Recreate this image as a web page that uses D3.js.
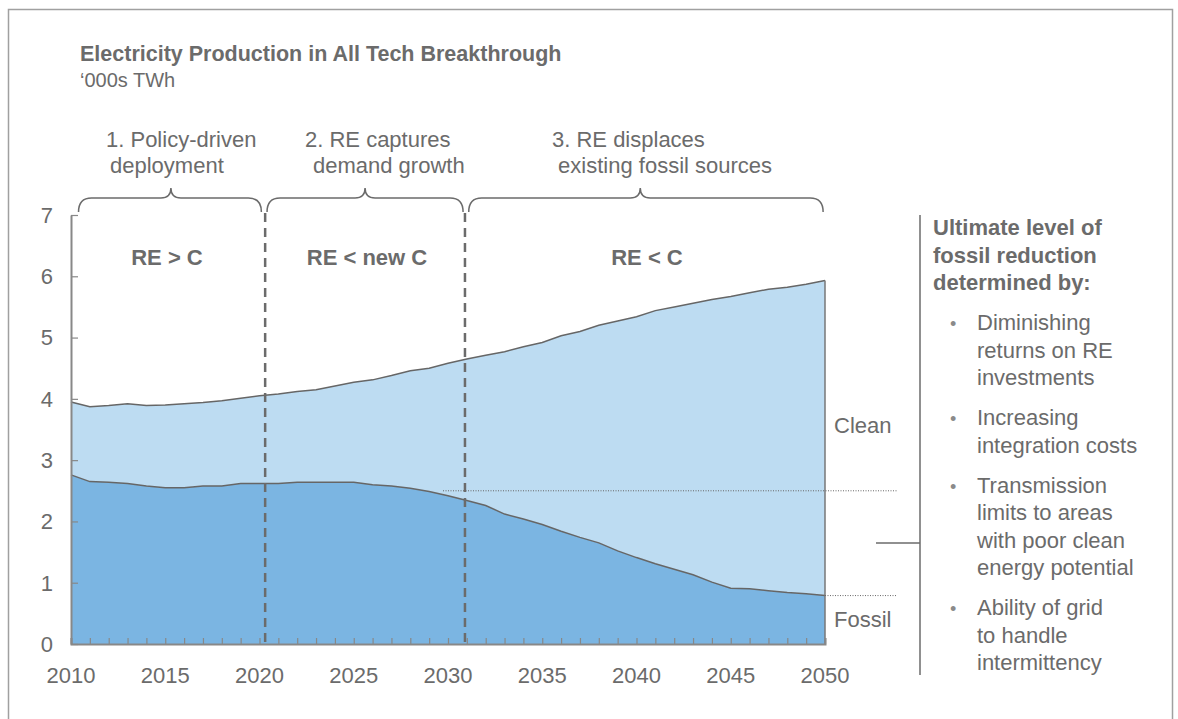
<!DOCTYPE html>
<html>
<head>
<meta charset="utf-8">
<script src="https://cdn.jsdelivr.net/npm/d3@7"></script>
<style>
  body { margin: 0; background: #fff; }
  svg text { font-family: "Liberation Sans", Arial, sans-serif; fill: #6b6b6b; }
</style>
</head>
<body>
<div id="chart"></div>
<script>
// data ('000s TWh)
const years = [2010, 2011, 2012, 2013, 2014, 2015, 2016, 2017, 2018, 2019,
  2020, 2021, 2022, 2023, 2024, 2025, 2026, 2027, 2028, 2029,
  2030, 2031, 2032, 2033, 2034, 2035, 2036, 2037, 2038, 2039,
  2040, 2041, 2042, 2043, 2044, 2045, 2046, 2047, 2048, 2049, 2050];
const fossil = [2.76, 2.65, 2.64, 2.62, 2.58, 2.55, 2.55, 2.58, 2.58, 2.62,
  2.62, 2.62, 2.64, 2.64, 2.64, 2.64, 2.60, 2.58, 2.54, 2.49,
  2.42, 2.34, 2.26, 2.12, 2.04, 1.95, 1.84, 1.74, 1.65, 1.52,
  1.41, 1.31, 1.22, 1.13, 1.01, 0.91, 0.90, 0.87, 0.84, 0.82, 0.79];
const clean = [1.19, 1.22, 1.25, 1.30, 1.31, 1.35, 1.37, 1.36, 1.39, 1.39,
  1.43, 1.46, 1.48, 1.51, 1.57, 1.63, 1.71, 1.80, 1.92, 2.01,
  2.16, 2.31, 2.45, 2.65, 2.81, 2.97, 3.19, 3.36, 3.55, 3.75,
  3.93, 4.13, 4.28, 4.43, 4.61, 4.76, 4.83, 4.92, 4.98, 5.05, 5.14];
const yTicks = [0, 1, 2, 3, 4, 5, 6, 7];
const xTicks = [2010, 2015, 2020, 2025, 2030, 2035, 2040, 2045, 2050];

// phases: label lines, bold tag, brace span (years)
const phaseLines = [["1. Policy-driven", "deployment"], ["2. RE captures", "demand growth"], ["3. RE displaces", " existing fossil sources"]];
const phaseTags = ["RE > C", "RE < new C", "RE < C"];
const phaseSpans = [[2010.4, 2020.1], [2020.4, 2030.8], [2031.1, 2049.9]];
const phaseMids = [2015.3, 2025.6, 2040.2];
const dividers = [2020.3, 2030.9];
const fossilFloor = 2.5;

const panelTitle = ["Ultimate level of", "fossil reduction", "determined by:"];
const bullets = [
  ["Diminishing", "returns on RE", "investments"],
  ["Increasing", "integration costs"],
  ["Transmission", "limits to areas", "with poor clean", "energy potential"],
  ["Ability of grid", "to handle", "intermittency"]
];

const W = 1178, H = 719;
const svg = d3.select("#chart").append("svg").attr("width", W).attr("height", H);

// outer frame
svg.append("rect").attr("x", 8.5).attr("y", 9.5).attr("width", 1164).attr("height", 730)
  .attr("fill", "none").attr("stroke", "#a0a0a0").attr("stroke-width", 1.5);

// title
svg.append("text").attr("x", 80).attr("y", 61).style("font-size", "21.5px").style("font-weight", "bold")
  .text("Electricity Production in All Tech Breakthrough");
svg.append("text").attr("x", 80).attr("y", 87).style("font-size", "20px").text("\u2018000s TWh");

const x = d3.scaleLinear().domain([2010, 2050]).range([71, 825]);
const y = d3.scaleLinear().domain([0, 7]).range([644, 215]);

const rows = years.map((yr, i) => ({ year: yr, fossil: fossil[i], clean: clean[i] }));
const stack = d3.stack().keys(["fossil", "clean"])(rows);
const colors = { fossil: "#7bb5e2", clean: "#bddcf2" };

const area = d3.area().x(d => x(d.data.year)).y0(d => y(d[0])).y1(d => y(d[1]));
const topLine = d3.line().x(d => x(d.data.year)).y(d => y(d[1]));

svg.selectAll(".layer").data(stack).enter().append("path")
  .attr("class", "layer").attr("d", area).attr("fill", d => colors[d.key]);
svg.selectAll(".edge").data(stack).enter().append("path")
  .attr("class", "edge").attr("d", topLine)
  .attr("fill", "none").attr("stroke", "#666").attr("stroke-width", 1.5);

// closing edge at 2050
const last = stack[1][stack[1].length - 1];
svg.append("line").attr("x1", x(2050)).attr("x2", x(2050)).attr("y1", y(0)).attr("y2", y(last[1]))
  .attr("stroke", "#777").attr("stroke-width", 1.5);

// x axis
const xAxis = svg.append("g").attr("transform", `translate(0,${y(0)})`)
  .call(d3.axisBottom(x).tickValues(years).tickSize(-6).tickFormat(""));
xAxis.select(".domain").attr("stroke", "#888").attr("stroke-width", 2);
xAxis.selectAll(".tick line").attr("stroke", "#888").attr("stroke-width", 1.2);
svg.selectAll(".xlab").data(xTicks).enter().append("text")
  .attr("x", d => x(d)).attr("y", 683).attr("text-anchor", "middle")
  .style("font-size", "22px").text(d => d);

// y axis
const yAxis = svg.append("g").attr("transform", `translate(${x(2010)},0)`)
  .call(d3.axisLeft(y).tickValues(yTicks).tickSize(-7).tickSizeOuter(0).tickFormat(""));
yAxis.select(".domain").attr("stroke", "#888").attr("stroke-width", 2);
yAxis.selectAll(".tick line").attr("stroke", "#888").attr("stroke-width", 1.2);
svg.selectAll(".ylab").data(yTicks).enter().append("text")
  .attr("x", 53).attr("y", d => y(d)).attr("dy", "0.36em").attr("text-anchor", "end")
  .style("font-size", "22px").text(d => d);

// dashed phase dividers
svg.selectAll(".div").data(dividers).enter().append("line")
  .attr("x1", d => x(d)).attr("x2", d => x(d)).attr("y1", 213).attr("y2", y(0))
  .attr("stroke", "#6b6b6b").attr("stroke-width", 2.5).attr("stroke-dasharray", "9,6");

// braces
function brace(x1, x2, xm, yEnd, yTop, yTip) {
  const r = 13, t = 10;
  return `M${x1},${yEnd} Q${x1},${yTop} ${x1 + r},${yTop} L${xm - t},${yTop} Q${xm},${yTop} ${xm},${yTip}` +
    ` Q${xm},${yTop} ${xm + t},${yTop} L${x2 - r},${yTop} Q${x2},${yTop} ${x2},${yEnd}`;
}
svg.selectAll(".brace").data(phaseSpans).enter().append("path")
  .attr("d", (d, i) => brace(x(d[0]), x(d[1]), x(phaseMids[i]), 212, 198, 188))
  .attr("fill", "none").attr("stroke", "#6b6b6b").attr("stroke-width", 1.5);

const lineStarts = [[106, 110], [305, 313], [552, 552]];
phaseLines.forEach((lines, i) => {
  lines.forEach((s, j) => {
    svg.append("text").attr("x", lineStarts[i][j]).attr("y", 147 + j * 26)
      .style("font-size", "22px").style("white-space", "pre").attr("xml:space", "preserve").text(s);
  });
});
svg.selectAll(".tag").data(phaseTags).enter().append("text")
  .attr("x", (d, i) => [167, 367, 647][i]).attr("y", 265).attr("text-anchor", "middle")
  .style("font-size", "22px").style("font-weight", "bold").text(d => d);

// series labels
svg.append("text").attr("x", 834).attr("y", 433).style("font-size", "22px").text("Clean");
svg.append("text").attr("x", 834).attr("y", 627).style("font-size", "22px").text("Fossil");

// dotted reference levels
svg.append("line").attr("x1", 443).attr("x2", 897).attr("y1", y(fossilFloor)).attr("y2", y(fossilFloor))
  .attr("stroke", "#666").attr("stroke-width", 1).attr("stroke-dasharray", "1,1.5");
svg.append("line").attr("x1", x(2050)).attr("x2", 897).attr("y1", y(fossil[fossil.length - 1])).attr("y2", y(fossil[fossil.length - 1]))
  .attr("stroke", "#666").attr("stroke-width", 1).attr("stroke-dasharray", "1,1.5");

// right panel bracket
svg.append("line").attr("x1", 920).attr("x2", 920).attr("y1", 215).attr("y2", 675)
  .attr("stroke", "#6b6b6b").attr("stroke-width", 1.5);
svg.append("line").attr("x1", 876).attr("x2", 920).attr("y1", 543).attr("y2", 543)
  .attr("stroke", "#6b6b6b").attr("stroke-width", 1.5);

panelTitle.forEach((s, i) => {
  svg.append("text").attr("x", 933).attr("y", 235 + i * 27.5)
    .style("font-size", "22px").style("font-weight", "bold").text(s);
});

let by = 330;
bullets.forEach(lines => {
  svg.append("text").attr("x", 950).attr("y", by).style("font-size", "18px").style("fill", "#8a8a8a").text("\u2022");
  lines.forEach((s, j) => {
    svg.append("text").attr("x", 977).attr("y", by + j * 27.5).style("font-size", "22px").text(s);
  });
  by += (lines.length - 1) * 27.5 + 40;
});
</script>
</body>
</html>
